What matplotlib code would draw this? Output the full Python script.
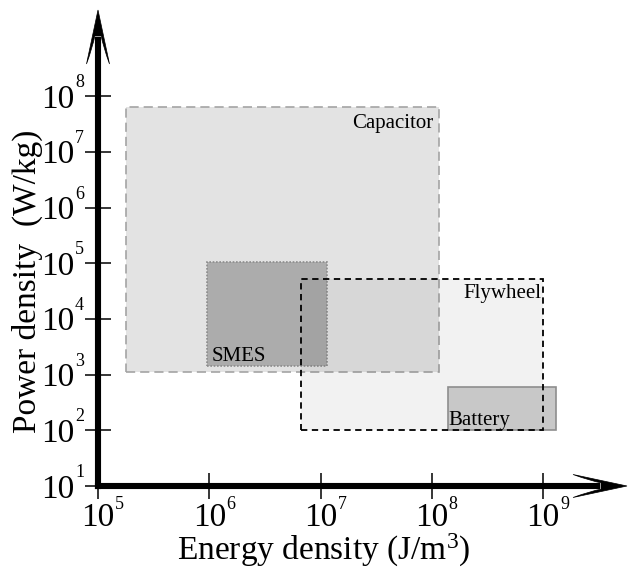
import matplotlib
matplotlib.use("Agg")
import matplotlib.pyplot as plt
from matplotlib.patches import Rectangle, PathPatch
from matplotlib.path import Path
import matplotlib.transforms as mtransforms

plt.rcParams['font.family'] = ['Liberation Serif', 'DejaVu Serif']
plt.rcParams['mathtext.fontset'] = 'custom'
plt.rcParams['mathtext.rm'] = 'Liberation Serif'
plt.rcParams['mathtext.it'] = 'Liberation Serif:italic'
plt.rcParams['mathtext.bf'] = 'Liberation Serif:bold'

# ---- data ----
categories = ['Capacitor', 'SMES', 'Flywheel', 'Battery']
energy_min = [1.8e5, 9.5e5, 6.7e6, 1.4e8]      # J/m^3
energy_max = [1.15e8, 1.15e7, 1.0e9, 1.3e9]
power_min = [1.1e3, 1.45e3, 1.0e2, 1.0e2]       # W/kg
power_max = [6.3e7, 1.05e5, 5.2e4, 6.1e2]
x_ticks = [1e5, 1e6, 1e7, 1e8, 1e9]
x_tick_exp = ['5', '6', '7', '8', '9']
y_ticks = [1e1, 1e2, 1e3, 1e4, 1e5, 1e6, 1e7, 1e8]
y_tick_exp = ['1', '2', '3', '4', '5', '6', '7', '8']

# ---- styles ----
fills = ['#e3e3e3', '#acacac', (0, 0, 0, 0.05), '#c8c8c8']
edges = ['#a4a4a4', '#8c8c8c', '#000000', '#8e8e8e']
lstyles = [(0, (5.5, 3)), (0, (1, 1)), (0, (3.5, 2.5)), '-']
lwidths = [1.2, 1.2, 1.3, 1.2]
fill_z = [1, 2, 3, 4]
edge_z = [1.5, 2.5, 5, 4.5]

fig = plt.figure(figsize=(6.31, 5.67), dpi=100)
W, H = 631, 567
ax = fig.add_axes([98 / W, 81 / H, (627 - 98) / W, (557 - 81) / H])
ax.set_xscale('log')
ax.set_yscale('log')
ax.set_xlim(1e5, 10 ** 9.755)
ax.set_ylim(1e1, 10 ** 9.55)
for s in ax.spines.values():
    s.set_visible(False)
ax.patch.set_visible(False)

for i, name in enumerate(categories):
    x0, x1 = energy_min[i], energy_max[i]
    y0, y1 = power_min[i], power_max[i]
    ax.add_patch(Rectangle((x0, y0), x1 - x0, y1 - y0, facecolor=fills[i],
                           edgecolor='none', zorder=fill_z[i]))
    ax.add_patch(Rectangle((x0, y0), x1 - x0, y1 - y0, facecolor='none',
                           edgecolor=edges[i], linestyle=lstyles[i],
                           linewidth=lwidths[i], zorder=edge_z[i]))

fs_in = 15
px = 0.72  # pixels -> points at 100 dpi
ax.annotate('Capacitor', xy=(energy_max[0], power_max[0]), xytext=(-5 * px, -21 * px),
            textcoords='offset points', ha='right', va='baseline', fontsize=fs_in, zorder=6)
ax.annotate('Flywheel', xy=(energy_max[2], power_max[2]), xytext=(-2 * px, -19 * px),
            textcoords='offset points', ha='right', va='baseline', fontsize=fs_in, zorder=6)
ax.annotate('SMES', xy=(energy_min[1], power_min[1]), xytext=(5 * px, 5 * px),
            textcoords='offset points', ha='left', va='baseline', fontsize=fs_in, zorder=6)
ax.annotate('Battery', xy=(energy_min[3], power_min[3]), xytext=(0 * px, 5 * px),
            textcoords='offset points', ha='left', va='baseline', fontsize=fs_in, zorder=6)

# ticks (labels drawn by hand: big "10" + small exponent)
ax.set_xticks(x_ticks)
ax.set_yticks(y_ticks)
ax.minorticks_off()
ax.tick_params(axis='both', direction='inout', length=18.5, width=1.1, color='k',
               labelbottom=False, labelleft=False)

fs_main, fs_sup = 24, 13
for t, e in zip(x_ticks, x_tick_exp):
    ax.annotate('10', xy=(t, 0), xycoords=('data', 'axes fraction'),
                xytext=(0, -40 * px), textcoords='offset points',
                ha='center', va='baseline', fontsize=fs_main, annotation_clip=False)
    ax.annotate(e, xy=(t, 0), xycoords=('data', 'axes fraction'),
                xytext=(17 * px, -23 * px), textcoords='offset points',
                ha='left', va='baseline', fontsize=fs_sup, annotation_clip=False)
for t, e in zip(y_ticks, y_tick_exp):
    ax.annotate('10', xy=(0, t), xycoords=('axes fraction', 'data'),
                xytext=(-24 * px, -11.5 * px), textcoords='offset points',
                ha='right', va='baseline', fontsize=fs_main, annotation_clip=False)
    ax.annotate(e, xy=(0, t), xycoords=('axes fraction', 'data'),
                xytext=(-23 * px, 9 * px), textcoords='offset points',
                ha='left', va='baseline', fontsize=fs_sup, annotation_clip=False)

# axis arrows
lw_axis = 4.4
ax.annotate('', xy=(1, 0), xycoords='axes fraction', xytext=(0, 0),
            arrowprops=dict(arrowstyle='-', lw=lw_axis, color='k', shrinkA=0,
                            shrinkB=30 * px, capstyle='projecting'), zorder=7)
ax.annotate('', xy=(0, 1), xycoords='axes fraction', xytext=(0, 0),
            arrowprops=dict(arrowstyle='-', lw=lw_axis, color='k', shrinkA=0,
                            shrinkB=30 * px, capstyle='projecting'), zorder=7)

def head(angle, at):
    verts = [(0, 0), (-54, 11.5), (-36, 5), (-26, 3.2), (-26, -3.2), (-36, -5), (-54, -11.5), (0, 0)]
    codes = [Path.MOVETO, Path.LINETO, Path.CURVE3, Path.CURVE3, Path.LINETO,
             Path.CURVE3, Path.CURVE3, Path.CLOSEPOLY]
    tr = (mtransforms.Affine2D().rotate_deg(angle)
          + mtransforms.ScaledTranslation(at[0], at[1], ax.transAxes))
    p = PathPatch(Path(verts, codes), facecolor='k', edgecolor='k', lw=0.5,
                  transform=tr, clip_on=False, zorder=7)
    fig.add_artist(p)

head(0, (1, 0))
head(90, (0, 1))

fig.text(324 / W, 1 - 560 / H, r'Energy density (J/m$\mathregular{^{3}}$)', ha='center',
         va='baseline', fontsize=24)
fig.text(27 / W, 1 - 281 / H, 'Power density  (W/kg)', ha='center', va='center',
         rotation=90, fontsize=24)

fig.savefig('out.png', dpi=100)
